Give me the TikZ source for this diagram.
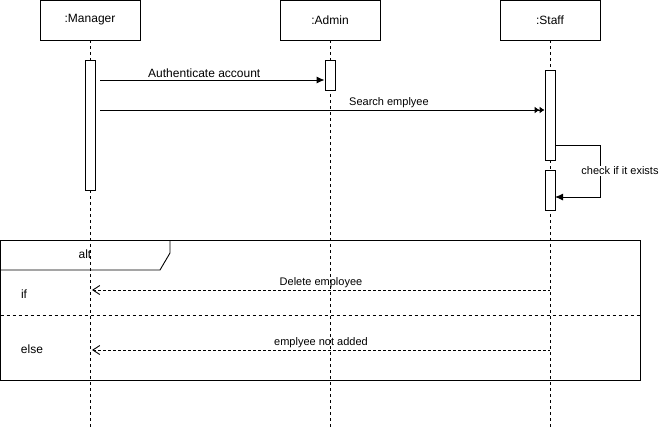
\documentclass[tikz,border=0pt]{standalone}
\usepackage{fontspec}
\setmainfont{Liberation Sans}
\usetikzlibrary{positioning}
\usetikzlibrary{arrows.meta}

\begin{document}
\begin{tikzpicture}[x=1pt,y=-1pt,line width=0.9pt]

          \tikzstyle{headNode} = [draw, minimum width=100pt, minimum height=40pt, font=\fontsize{12}{14}\selectfont];
          \tikzstyle{actNode} = [draw, fill=white, minimum width=10pt, inner sep=0pt];
          \tikzstyle{textNode} = [font=\fontsize{12}{14}\selectfont];
          \tikzstyle{smallNode} = [font=\fontsize{11}{13}\selectfont];

          \tikzstyle{lifeEdge} = [dash pattern=on 3pt off 3pt];
          \tikzstyle{callEdge} = [-{Latex[length=8pt,width=7pt]}];
          \tikzstyle{returnEdge} = [dash pattern=on 3pt off 2pt, {Straight Barb[length=7pt,width=9pt,line width=0.9pt,sep=0pt]}-];

          \useasboundingbox (0,0) rectangle (659,431);

          % heads and life lines
          \node[headNode] (manager) at (90,20) {:Manager};
          \node[headNode] (admin) at (330,20) {:Admin};
          \node[headNode] (staff) at (550,20) {:Staff};
          \coordinate (managerEnd) at (90,427);
          \coordinate (adminEnd) at (330,427);
          \coordinate (staffEnd) at (550,427);
          \draw[lifeEdge] (manager) -- (managerEnd);
          \draw[lifeEdge] (admin) -- (adminEnd);
          \draw[lifeEdge] (staff) -- (staffEnd);

          % alt frame
          \draw (0.5,240) rectangle (640,380);
          \draw (0.5,270) -- (160,270) -- (170,253) -- (170,240);
          \draw[lifeEdge] (0.5,315) -- (640,315);
          \node[textNode] (altLabel) at (85,254) {alt};
          \node[textNode] (ifLabel) at (24,294) {if};
          \node[textNode] (elseLabel) at (32,349) {else};

          % activations
          \node[actNode, minimum height=130pt] (managerAct) at (90,125) {};
          \node[actNode, minimum height=30pt] (adminAct) at (330,75) {};
          \node[actNode, minimum height=90pt] (staffAct) at (550,115) {};
          \node[actNode, minimum height=40pt] (staffActBis) at (550,190) {};

          % messages
          \coordinate (authFrom) at (100,80);
          \coordinate (searchFrom) at (100,110);
          \coordinate (checkFrom) at (555,145);
          \coordinate (checkTo) at (555,197);
          \coordinate (deleteFrom) at (550,290);
          \coordinate (deleteTo) at (92,290);
          \coordinate (notFrom) at (550,350);
          \coordinate (notTo) at (92,350);

          \draw[callEdge] (authFrom) -- (authFrom -| adminAct.west)
            node[textNode, midway, above, inner sep=2pt, xshift=-8pt] {Authenticate account};
          \draw[-{Latex[length=5pt,width=7pt]Latex[length=5pt,width=7pt]}] (searchFrom) -- (searchFrom -| staffAct.west)
            node[smallNode, pos=0.65, above, inner sep=2pt] {Search emplyee};
          \draw[callEdge] (checkFrom) -- ++(45,0) |- (checkTo);
          \node[smallNode, fill=white, inner sep=1pt] (checkLabel) at (620,171) {check if it exists};

          \draw[returnEdge] (deleteTo) -- (deleteFrom)
            node[smallNode, midway, above, inner sep=2pt] {Delete employee};
          \draw[returnEdge] (notTo) -- (notFrom)
            node[smallNode, midway, above, inner sep=2pt] {emplyee not added};

\end{tikzpicture}
\end{document}
